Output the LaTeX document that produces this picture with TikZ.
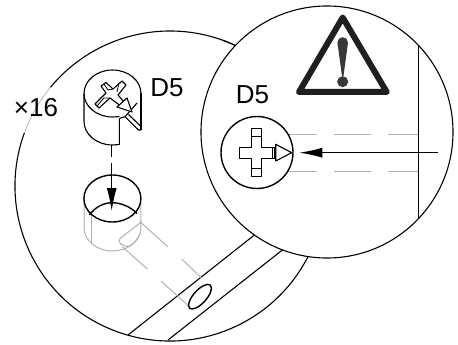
\documentclass[tikz,border=0pt]{standalone}
\usepackage{fontspec}
\setmainfont{Liberation Sans}
\usetikzlibrary{arrows.meta}
\definecolor{ghost}{gray}{0.70}
\tikzset{
  ink/.style={draw=black,line width=1.1pt,line join=round},
  thick ink/.style={draw=black,line width=1.4pt,line join=round},
  fine ink/.style={draw=black,line width=0.8pt},
  ghostline/.style={draw=ghost,line width=1pt},
  label text/.style={font=\fontsize{26}{26}\selectfont,inner sep=0pt,text=black},
  pointer/.style={draw=black,line width=1.1pt,-{Latex[length=23pt,width=10pt]}},
}
\begin{document}
\begin{tikzpicture}[x=1pt,y=-1pt]
\useasboundingbox (0,0) rectangle (458,345);
\fill[white] (0,0) rectangle (458,345);
\coordinate (bc) at (170,186);
\coordinate (rc) at (327,132);
% large circle
\draw[ink] (bc) ++(200:155) arc[start angle=200,end angle=-70,radius=155];
\draw[ink] (bc) ++(219.5:155) arc[start angle=219.5,end angle=300,radius=155];
\draw[draw=black!35,line width=0.6pt] (bc) ++(200:155) arc[start angle=200,end angle=219.5,radius=155];
% board lines
\draw[ink] (128,335) -- (262,229);
\draw[ink] (168,340) -- (290,244);
% right circle
\filldraw[ink,fill=white] (rc) circle[radius=126];
% hidden lines
\foreach \ya in {134,171.7}{
  \draw[ghostline] (287.3,\ya) -- (316.7,\ya) (334.3,\ya) -- (370.7,\ya) (388.3,\ya) -- (418.3,\ya);
}
\draw[ink] (418.3,45.2) -- (418.3,218.8);
% warning sign
\draw[draw=black!88,line width=6pt,line join=round] (342.7,17.5) -- (386.7,92) -- (299,92) -- cycle;
\fill[black!78] (337.4,42.5) arc[start angle=180,end angle=360,radius=5.3] -- (343.5,76) -- (342,76) -- cycle;
\fill[black!78] (342.7,81.7) circle[radius=5.5];
% right screw
\draw[thick ink] (257,152.5) circle[radius=36];
\draw[ink,fill=white] (251.7,128.3) -- (261.7,128.3) -- (261.7,147.7) -- (275,147.7) -- (275,158.3) -- (261.7,158.3) -- (261.7,176.7) -- (251.7,176.7) -- (251.7,158.3) -- (239.3,158.3) -- (239.3,147.7) -- (251.7,147.7) -- cycle;
\draw[fine ink] (251.7,136.7) -- (261.7,136.7) (251.7,168.3) -- (261.7,168.3) (272.3,147.7) -- (272.3,158.3);
\draw[ink,fill=white] (275.7,144.3) -- (291.7,152.7) -- (275.7,161) -- cycle;
\coordinate (ra) at (438,152.7);
\coordinate (rb) at (299.3,152.7);
\draw[pointer] (ra) -- (rb);
% top screw
\draw[ink] (84,93.5) -- (84,121.5) arc[start angle=180,end angle=90,x radius=28.5,y radius=23.5] -- (119.3,144.5) -- (119.3,118.5);
\draw[ink] (84,93.5) arc[start angle=180,end angle=360,x radius=28.5,y radius=23.5];
\draw[ink] (84,93.5) arc[start angle=180,end angle=90,x radius=28.5,y radius=23.5] -- (119.3,116.6);
\draw[ink] (141,93.5) -- (141,130);
\draw[ink] (119.3,118.5) -- (125,116.7) -- (138.5,130) -- (141,130);
\draw[ink] (128.5,114.5) -- (140.5,126);
\draw[ink] (125,116.7) -- (137,103);
\draw[ink,fill=white] (101,86) -- (106,82.5) -- (113,89) -- (122,81) -- (126,85) -- (118,95) -- (124,102) -- (120,105.5) -- (110,98) -- (99,108) -- (95,104) -- (106,93) -- cycle;
\draw[fine ink] (104,84) -- (108,90) -- (113,89) (119,83) -- (117,92) (97,106) -- (104,98) -- (110,98);
\draw[ink,fill=white] (117,107) -- (127,98) -- (132,112) -- cycle;
\node[label text] (d5a) at (167,87.5) {D5};
\node[label text] (d5b) at (252.5,94.5) {D5};
\node[label text] (times) at (36,108) {×16};
% hole
\draw[ghostline] (84,198.5) -- (84,227.5) arc[start angle=180,end angle=0,x radius=28.5,y radius=23.5] -- (140.7,198.5);
\draw[ghostline] (91,215) -- (91,243);
\draw[ghostline,rounded corners=4pt] (141.7,221.7) -- (117.3,240.5) -- (123,246) .. controls (131,247) and (138,240) .. (140,233);
\draw[ghostline] (140,221.7) -- (167.7,246.7) (181.7,259) -- (201.7,278.3);
\draw[ghostline] (122.3,246.7) -- (147.3,269) (161,281) -- (188.3,305.7);
\draw[thick ink] (112.4,198.5) ellipse[x radius=28.5,y radius=23.5];
\draw[thick ink] (89.3,215) .. controls (95,207) and (104,202.7) .. (112,202.7) .. controls (121,202.7) and (131,207) .. (137,213.5);
\draw[thick ink,rotate around={48:(200,296.7)}] (200,296.7) ellipse[x radius=15.5,y radius=6.5];
% dashed arrow
\coordinate (da) at (111.7,145);
\coordinate (db) at (111.7,157);
\coordinate (dc) at (111.7,163);
\coordinate (df) at (111.7,211);
\draw[ink] (da) -- (db);
\draw[pointer] (dc) -- (df);
\end{tikzpicture}
\end{document}
